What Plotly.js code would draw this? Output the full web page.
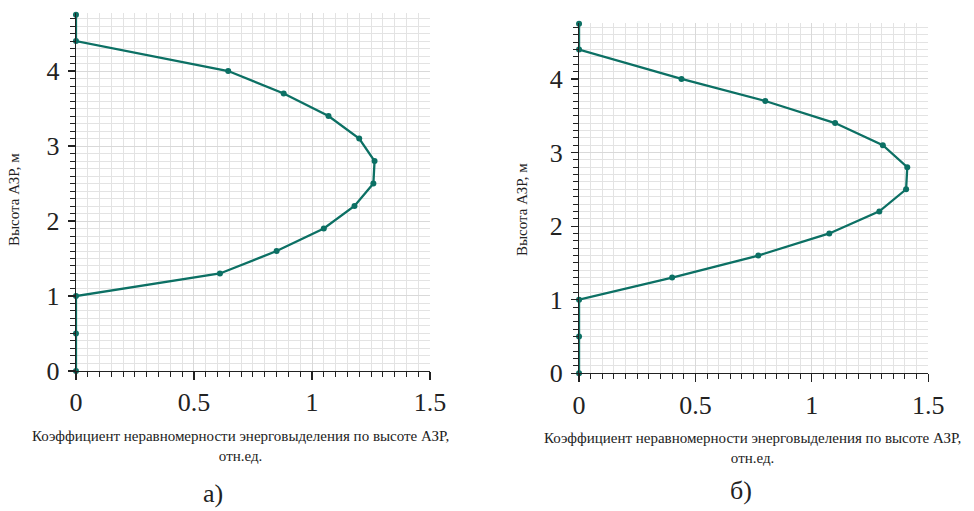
<!DOCTYPE html>
<html>
<head>
<meta charset="utf-8">
<script src="https://cdn.plot.ly/plotly-3.0.1.min.js"></script>
<style>html,body{margin:0;padding:0;background:#fff;}#chart{width:974px;height:511px;}</style>
</head>
<body>
<div id="chart"></div>
<script>
// Heights of core (m)
const heights = [0, 0.5, 1.0, 1.3, 1.6, 1.9, 2.2, 2.5, 2.8, 3.1, 3.4, 3.7, 4.0, 4.4, 4.75];
// Panel а) coefficient values
const coefA = [0, 0, 0, 0.61, 0.85, 1.05, 1.18, 1.26, 1.265, 1.2, 1.07, 0.88, 0.645, 0, 0];
// Panel б) coefficient values
const coefB = [0, 0, 0, 0.40, 0.77, 1.075, 1.29, 1.405, 1.41, 1.305, 1.10, 0.80, 0.44, 0, 0];

const xTitle = "Коэффициент неравномерности энерговыделения по высоте АЗР,<br>отн.ед.";
const yTitle = "Высота АЗР, м";
const panelLabels = ["а)", "б)"];

const lineColor = "#0c7064";
const serif = "Liberation Serif";

function trace(x, xa, ya) {
  return {
    x: x, y: heights, xaxis: xa, yaxis: ya,
    type: "scatter", mode: "lines+markers",
    line: {color: lineColor, width: 2.3},
    marker: {color: lineColor, size: 6},
    cliponaxis: false, hoverinfo: "skip", showlegend: false
  };
}

function xAxis(domain, anchor) {
  return {
    domain: domain, anchor: anchor, range: [0, 1.5], dtick: 0.5, tick0: 0,
    showline: true, linecolor: "#222", linewidth: 1.2,
    ticks: "outside", ticklen: 8, tickcolor: "#222", tickwidth: 1.2,
    showgrid: true, gridcolor: "#d9d9d9", gridwidth: 1, zeroline: false,
    tickfont: {family: serif, size: 26, color: "#222"},
    minor: {dtick: 0.05, ticks: "outside", ticklen: 5, tickcolor: "#222", tickwidth: 1,
            showgrid: true, gridcolor: "#e3e3e3", gridwidth: 1},
    fixedrange: true
  };
}
function yAxis(domain, anchor, top) {
  return {
    domain: domain, anchor: anchor, range: [0, top], dtick: 1, tick0: 0,
    showline: true, linecolor: "#222", linewidth: 1.2,
    ticks: "outside", ticklen: 7, tickcolor: "#222", tickwidth: 1.2,
    ticklabelstandoff: 3,
    showgrid: true, gridcolor: "#d9d9d9", gridwidth: 1, zeroline: false,
    tickfont: {family: serif, size: 26, color: "#222"},
    minor: {dtick: 0.1, ticks: "outside", ticklen: 5, tickcolor: "#222", tickwidth: 1,
            showgrid: true, gridcolor: "#e3e3e3", gridwidth: 1},
    fixedrange: true
  };
}

const data = [trace(coefA, "x", "y"), trace(coefB, "x2", "y2")];

const layout = {
  width: 974, height: 511,
  margin: {l: 0, r: 0, t: 0, b: 0},
  paper_bgcolor: "#fff", plot_bgcolor: "#fff",
  font: {family: serif},
  xaxis: xAxis([0.078, 0.4415], "y"),
  yaxis: yAxis([0.274, 0.974], "x", 4.77),
  xaxis2: xAxis([0.5945, 0.953], "y2"),
  yaxis2: yAxis([0.2695, 0.955], "x2", 4.76),
  annotations: [
    {xref: "paper", yref: "paper", x: 240/974, y: 1 - 446/511, text: xTitle, showarrow: false,
     font: {family: serif, size: 15, color: "#222"}, xanchor: "center", yanchor: "middle", align: "center"},
    {xref: "paper", yref: "paper", x: 752/974, y: 1 - 448/511, text: xTitle, showarrow: false,
     font: {family: serif, size: 15, color: "#222"}, xanchor: "center", yanchor: "middle", align: "center"},
    {xref: "paper", yref: "paper", x: 14/974, y: 1 - 200/511, text: yTitle, showarrow: false, textangle: -90,
     font: {family: serif, size: 15, color: "#222"}, xanchor: "center", yanchor: "middle"},
    {xref: "paper", yref: "paper", x: 522/974, y: 1 - 210/511, text: yTitle, showarrow: false, textangle: -90,
     font: {family: serif, size: 15, color: "#222"}, xanchor: "center", yanchor: "middle"},
    {xref: "paper", yref: "paper", x: 213/974, y: 1 - 493/511, text: panelLabels[0], showarrow: false,
     font: {family: serif, size: 26, color: "#222"}, xanchor: "center", yanchor: "middle"},
    {xref: "paper", yref: "paper", x: 741/974, y: 1 - 490/511, text: panelLabels[1], showarrow: false,
     font: {family: serif, size: 26, color: "#222"}, xanchor: "center", yanchor: "middle"}
  ]
};

Plotly.newPlot("chart", data, layout, {staticPlot: true, displayModeBar: false});
</script>
</body>
</html>
